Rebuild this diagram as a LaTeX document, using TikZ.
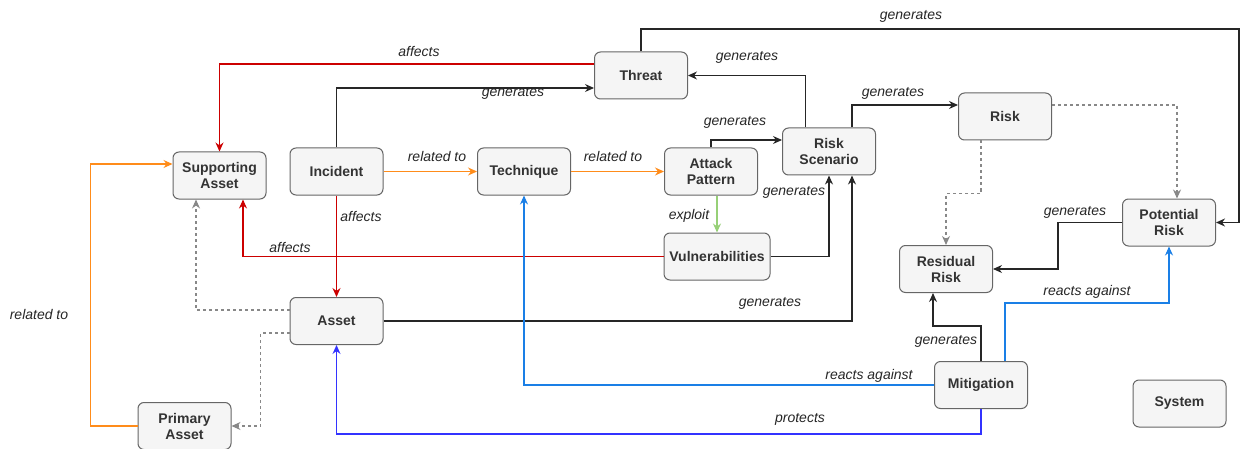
\documentclass[tikz,border=0pt]{standalone}
\usepackage{fontspec}
\setmainfont{Liberation Sans}
\usetikzlibrary{arrows.meta, positioning}

\definecolor{boxfill}{HTML}{F5F5F5}
\definecolor{boxline}{HTML}{666666}
\definecolor{boxtext}{HTML}{333333}
\definecolor{affred}{HTML}{CC0000}
\definecolor{relorange}{HTML}{FF8C1A}
\definecolor{expgreen}{HTML}{97D077}
\definecolor{reactblue}{HTML}{1A7FE6}
\definecolor{protblue}{HTML}{3333FF}
\definecolor{dashgray}{HTML}{888888}

\begin{document}
\begin{tikzpicture}[
    x=1pt, y=-1pt,
    % Styles for the boxes
    box/.style={draw=boxline, fill=boxfill, rounded corners=6pt, line width=1pt,
                minimum width=93pt, minimum height=47pt, inner sep=0pt,
                align=center, text=boxtext, font=\fontsize{14}{16}\selectfont\bfseries},
    lbl/.style={font=\fontsize{14}{16}\selectfont\itshape, text=black!85, inner sep=1pt},
    % Styles for connectors
    edge/.style={line width=1.1pt, -{Stealth[length=9pt,width=8pt]}},
    gen/.style={edge, draw=black!85},
    aff/.style={edge, draw=affred},
    rel/.style={edge, draw=relorange},
    react/.style={edge, draw=reactblue},
    prot/.style={edge, draw=protblue},
    expl/.style={edge, draw=expgreen},
    weak/.style={edge, draw=dashgray, dashed}
]
\useasboundingbox (0,0) rectangle (1241,449);

        % --- Assets ---
        \node[box] (supp) at (219.5,175.5) {Supporting\\Asset};
        \node[box] (asset) at (336.5,321) {Asset};
        \node[box] (primary) at (184.5,426) {Primary\\Asset};

        % --- Threat side ---
        \node[box] (incident) at (336.5,171.5) {Incident};
        \node[box] (technique) at (524,171.5) {Technique};
        \node[box] (threat) at (641,75.5) {Threat};
        \node[box] (attack) at (711,171.5) {Attack\\Pattern};
        \node[box, minimum width=106pt] (vuln) at (717,256.5) {Vulnerabilities};
        \node[box] (scenario) at (829,151.5) {Risk\\Scenario};

        % --- Risks ---
        \node[box] (risk) at (1005,116.5) {Risk};
        \node[box] (potential) at (1169,222.5) {Potential\\Risk};
        \node[box] (residual) at (946,269) {Residual\\Risk};
        \node[box] (mitigation) at (981,385) {Mitigation};
        \node[box] (system) at (1179.5,403.5) {System};

        \coordinate (corner) at (1239,29);

        % --- Edges ---
        \draw[aff] ([yshift=11.5pt]threat.west) -| (supp.north);
        \draw[gen] (incident.north) |- ([yshift=-12.5pt]threat.west);
        \draw[rel] (incident) -- (technique);
        \draw[rel] (technique) -- (attack);
        \draw[gen] (attack.north) |- ([yshift=11.5pt]scenario.west);
        \draw[expl] (vuln.north |- attack.south) -- (vuln.north);
        \draw[gen] (vuln.east) -| (scenario.south);
        \draw[aff] (vuln.west) -| ([xshift=23.5pt]supp.south);
        \draw[aff] (incident) -- (asset);
        \draw[gen] ([xshift=-23.5pt]scenario.north) |- (threat.east);
        \draw[gen] (threat.north) |- (corner) |- (potential.east);
        \draw[gen] ([xshift=23pt]scenario.north) |- ([yshift=11.5pt]risk.west);
        \draw[weak] ([yshift=11.5pt]risk.east) -| ([xshift=8pt]potential.north);
        \draw[weak] ([xshift=-24pt]risk.south) -- ++(0,53) -| (residual.north);
        \draw[gen] (potential.west) -- ++(-64,0) |- (residual.east);
        \draw[gen] (asset.east) -| ([xshift=23pt]scenario.south);
        \draw[gen] (mitigation.north) -- ++(0,-35) -| ([xshift=-13pt]residual.south);
        \draw[react] ([xshift=24pt]mitigation.north) -- ++(0,-58) -| (potential.south);
        \draw[react] (mitigation.west) -| (technique.south);
        \draw[prot] (mitigation.south) -- ++(0,25) -| (asset.south);
        \draw[weak] ([yshift=11pt]asset.west) -| ([xshift=-23.5pt]supp.south);
        \draw[weak] ([yshift=-12pt]asset.west) -- ++(-29,0) |- (primary.east);
        \draw[rel] (primary.west) -- ++(-47,0) |- ([yshift=11.5pt]supp.west);

        % --- Edge labels ---
        \node[lbl] (l-aff1) at (419,51) {affects};
        \node[lbl] (l-gen1) at (513,93) {generates};
        \node[lbl] (l-rel1) at (437,157) {related to};
        \node[lbl] (l-rel2) at (613,157) {related to};
        \node[lbl] (l-gen2) at (747,57) {generates};
        \node[lbl] (l-gen3) at (735,122) {generates};
        \node[lbl] (l-gen4) at (794,192) {generates};
        \node[lbl] (l-expl) at (689,216) {exploit};
        \node[lbl] (l-aff2) at (290,247) {affects};
        \node[lbl] (l-aff3) at (361,216) {affects};
        \node[lbl] (l-rel3) at (39,314) {related to};
        \node[lbl] (l-gen5) at (911,16) {generates};
        \node[lbl] (l-gen6) at (893,93) {generates};
        \node[lbl] (l-gen7) at (1075,212) {generates};
        \node[lbl] (l-react1) at (1087,292) {reacts against};
        \node[lbl] (l-gen8) at (770,303) {generates};
        \node[lbl] (l-gen9) at (946,341) {generates};
        \node[lbl] (l-react2) at (869,376) {reacts against};
        \node[lbl] (l-prot) at (800,419) {protects};

    \end{tikzpicture}
\end{document}
